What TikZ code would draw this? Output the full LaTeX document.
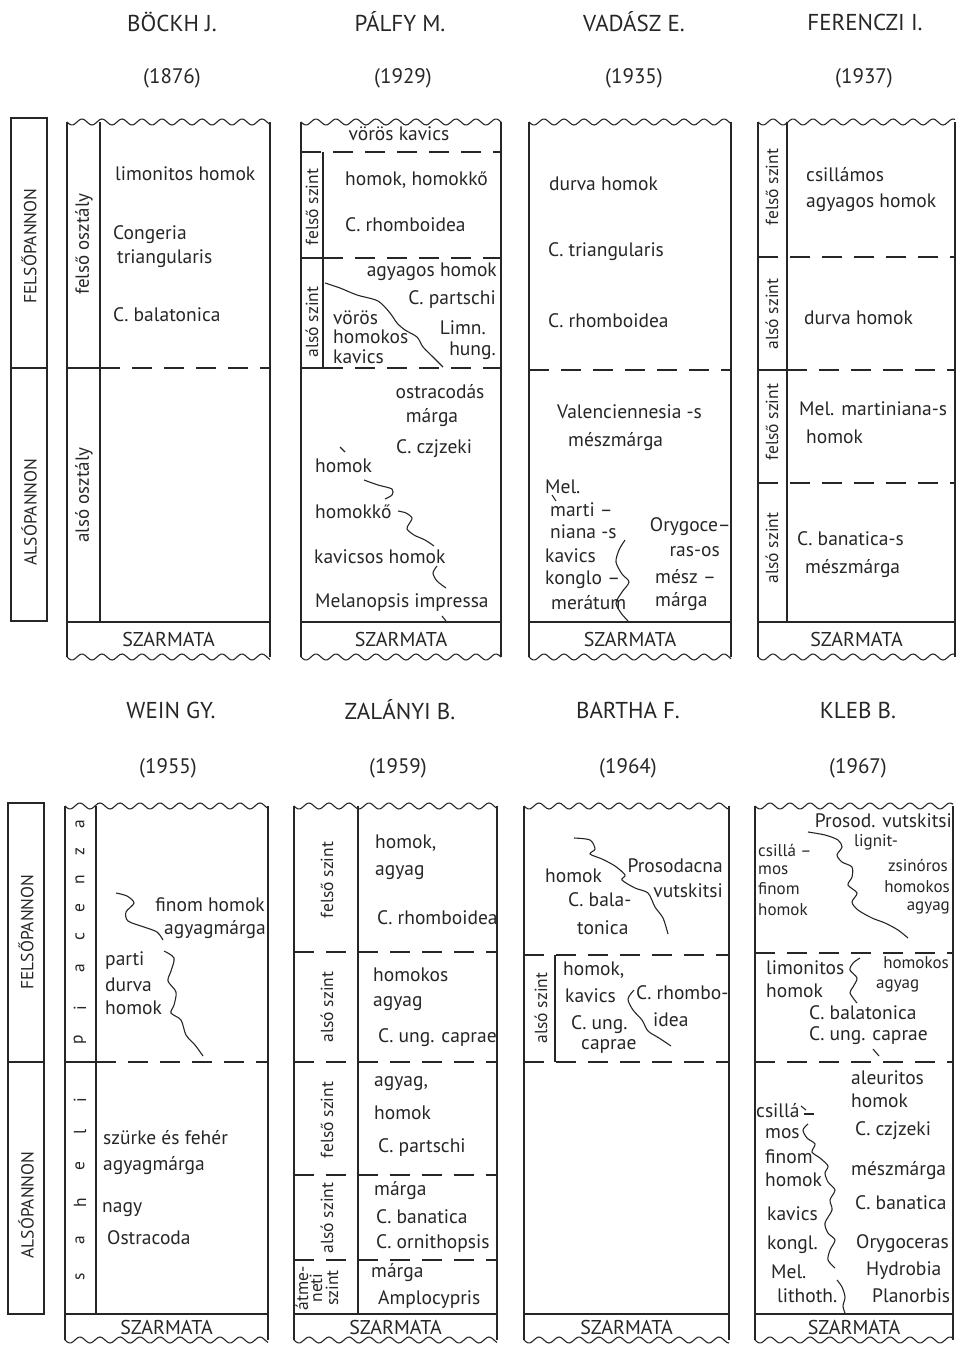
\documentclass[tikz,border=0pt]{standalone}
\usepackage{fontspec}
\setmainfont{PT Sans}
\newcommand\wavyline[3]{\draw[wav] plot[domain=#1:#2,samples=100,smooth] (\x,{#3+3*sin(18*(\x-#1))});}
\newcommand\colframe[6]{%
  \wavyline{#1}{#2}{#3}
  \wavyline{#1}{#2}{#5}
  \draw[ln] (#1,#3) -- (#1,#5) (#2,#3) -- (#2,#5);
  \draw[ln] (#1,#4) -- (#2,#4);
  \node[t, font=\fontsize{20}{22}\selectfont] (#6) at ({(#1+#2)/2},{(#4+#5)/2}) {SZARMATA};
}
\begin{document}
\begin{tikzpicture}[x=1pt,y=-1pt,
  ln/.style={line width=1.1pt, black!85},
  dsh/.style={ln, dash pattern=on 20pt off 12pt},
  wav/.style={line width=1.1pt, black!85},
  t/.style={inner sep=0pt, font=\fontsize{19.5}{21}\selectfont, text=black!85},
  tw/.style={t, anchor=west},
  te/.style={t, anchor=east},
  sm/.style={font=\fontsize{17}{18}\selectfont},
  rt/.style={t, rotate=90, font=\fontsize{17.5}{19}\selectfont},
  rto/.style={t, rotate=90, font=\fontsize{19}{21}\selectfont},
  hd/.style={t, font=\fontsize{23}{25}\selectfont},
  yr/.style={t, font=\fontsize{21}{23}\selectfont},
  bigl/.style={t, rotate=90, font=\fontsize{17.5}{19}\selectfont},
]
\useasboundingbox (0,0) rectangle (961,1346);

% ---------- headings ----------
\node[hd] (h1) at (172,22) {BÖCKH J.};
\node[yr] (y1) at (172,78) {(1876)};
\node[hd] (h2) at (400,22) {PÁLFY M.};
\node[yr] (y2) at (403,78) {(1929)};
\node[hd] (h3) at (634,22) {VADÁSZ E.};
\node[yr] (y3) at (634,78) {(1935)};
\node[hd] (h4) at (865,22) {FERENCZI I.};
\node[yr] (y4) at (864,78) {(1937)};
\node[hd] (h5) at (171,710) {WEIN GY.};
\node[yr] (y5) at (168,768) {(1955)};
\node[hd] (h6) at (400,710) {ZALÁNYI B.};
\node[yr] (y6) at (398,768) {(1959)};
\node[hd] (h7) at (628,710) {BARTHA F.};
\node[yr] (y7) at (628,768) {(1964)};
\node[hd] (h8) at (858,710) {KLEB B.};
\node[yr] (y8) at (858,768) {(1967)};

% ---------- left label boxes ----------
\draw[ln] (11,118) rectangle (47,368);
\draw[ln] (11,368) rectangle (47,621);
\node[bigl] (lf1) at (29,246) {FELSŐPANNON};
\node[bigl] (la1) at (29,512) {ALSÓPANNON};
\draw[ln] (8,803) rectangle (44,1062);
\draw[ln] (8,1062) rectangle (44,1314);
\node[bigl] (lf2) at (26,932) {FELSŐPANNON};
\node[bigl] (la2) at (26,1205) {ALSÓPANNON};

% ---------- Böckh ----------
\colframe{67}{270}{122}{622}{657}{sz1}
\draw[ln] (100,122) -- (100,622);
\draw[ln] (67,368) -- (100,368);
\draw[dsh] (100,368) -- (270,368);
\node[rto] (b1) at (84,244) {felső osztály};
\node[rto] (b2) at (84,495) {alsó osztály};
\node[tw] (b3) at (115,174) {limonitos homok};
\node[tw] (b4) at (113,235) {Congeria};
\node[tw] (b5) at (117,259) {triangularis};
\node[tw] (b6) at (113,315) {C. balatonica};

% ---------- Pálfy ----------
\colframe{301}{501}{122}{622}{657}{sz2}
\draw[dsh] (301,152) -- (501,152);
\draw[ln] (323,152) -- (323,368);
\draw[ln] (301,258) -- (323,258);
\draw[dsh] (323,258) -- (501,258);
\draw[ln] (301,368) -- (323,368);
\draw[dsh] (323,368) -- (501,368);
\node[rt] (p0) at (312,207) {felső szint};
\node[rt] (p00) at (312,322) {alsó szint};
\node[t] (p1) at (399,134) {vörös kavics};
\node[tw] (p2) at (345,180) {homok, homokkő};
\node[tw] (p3) at (345,225) {C. rhomboidea};
\node[te] (p4) at (497,272) {agyagos homok};
\node[te] (p5) at (496,300) {C. partschi};
\node[tw] (p6) at (333,318) {vörös};
\node[tw] (p7) at (333,337) {homokos};
\node[tw] (p8) at (333,357) {kavics};
\node[te] (p9) at (486,328) {Limn.};
\node[te] (p10) at (496,351) {hung.};
\draw[wav] plot[smooth] coordinates {(325,283) (340,288) (357,295) (378,301) (390,313) (397,323) (405,330) (417,337) (423,347) (433,357) (443,367)};
\node[t] (p11) at (440,392) {ostracodás};
\node[t] (p12) at (432,418) {márga};
\node[tw] (p13) at (396,449) {C. czjzeki};
\node[tw] (p14) at (315,466) {homok};
\node[tw] (p15) at (315,512) {homokkő};
\node[tw] (p16) at (314,557) {kavicsos homok};
\node[tw] (p17) at (315,603) {Melanopsis impressa};
\draw[wav] (340,447) -- (345,452);
\draw[wav] plot[smooth] coordinates {(364,480) (378,485) (392,489) (392,495) (385,499)};
\draw[wav] plot[smooth] coordinates {(398,511) (406,513) (412,518) (409,524) (407,529) (414,535) (425,540) (434,546)};
\draw[wav] plot[smooth] coordinates {(437,566) (433,573) (437,581) (446,588)};
\draw[wav] (442,616) -- (446,621);

% ---------- Vadász ----------
\colframe{529}{731}{122}{622}{657}{sz3}
\draw[dsh] (529,370) -- (731,370);
\node[tw] (v1) at (549,184) {durva homok};
\node[tw] (v2) at (548,252) {C. triangularis};
\node[tw] (v3) at (548,321) {C. rhomboidea};
\node[tw] (v4) at (557,412) {Valenciennesia -s};
\node[tw] (v5) at (568,442) {mészmárga};
\node[tw] (v6) at (545,487) {Mel.};
\node[tw] (v7) at (550,510) {marti –};
\node[tw] (v8) at (550,532) {niana -s};
\node[tw] (v9) at (545,556) {kavics};
\node[tw] (v10) at (545,580) {konglo –};
\node[tw] (v11) at (551,603) {merátum};
\node[te] (v12) at (731,527) {Orygoce–};
\node[te] (v13) at (720,552) {ras-os};
\node[tw] (v14) at (655,577) {mész –};
\node[tw] (v15) at (655,602) {márga};
\draw[wav] (552,495) -- (556,501);
\draw[wav] plot[smooth] coordinates {(625,540) (619,550) (616,562) (622,574) (629,582) (622,592) (616,603) (621,613) (628,621)};

% ---------- Ferenczi ----------
\colframe{758}{955}{122}{622}{657}{sz4}
\draw[ln] (787,122) -- (787,622);
\draw[dsh] (758,257) -- (955,257);
\draw[ln] (758,370) -- (787,370);
\draw[dsh] (787,370) -- (955,370);
\draw[dsh] (758,483) -- (955,483);
\node[rt] (f1) at (772,187) {felső szint};
\node[rt] (f2) at (772,314) {alsó szint};
\node[rt] (f3) at (772,422) {felső szint};
\node[rt] (f4) at (772,548) {alsó szint};
\node[tw] (f5) at (806,175) {csillámos};
\node[tw] (f6) at (806,203) {agyagos homok};
\node[tw] (f7) at (804,318) {durva homok};
\node[tw] (f8) at (799,409) {Mel. martiniana-s};
\node[tw] (f9) at (806,437) {homok};
\node[tw] (f10) at (797,539) {C. banatica-s};
\node[tw] (f11) at (805,569) {mészmárga};

% ---------- Wein ----------
\colframe{65}{268}{806}{1314}{1340}{sz5}
\draw[ln] (96,806) -- (96,1314);
\draw[ln] (65,1062) -- (96,1062);
\draw[dsh] (96,1062) -- (268,1062);
\foreach \ch/\yy [count=\k] in {p/1040,i/1008,a/968,c/937,e/908,n/880,z/852,a/824,s/1277,a/1240,h/1203,e/1166,l/1132,i/1100}
  \node[rt] (wl\k) at (80,\yy) {\ch};
\node[te] (w1) at (265,905) {finom homok};
\node[te] (w2) at (266,930) {agyagmárga};
\node[tw] (w3) at (105,961) {parti};
\node[tw] (w4) at (105,985) {durva};
\node[tw] (w5) at (105,1008) {homok};
\node[tw] (w6) at (103,1138) {szürke és fehér};
\node[tw] (w7) at (103,1166) {agyagmárga};
\node[tw] (w8) at (102,1210) {nagy};
\node[tw] (w9) at (107,1238) {Ostracoda};
\draw[wav] plot[smooth] coordinates {(116,893) (127,896) (134,903) (126,912) (128,921) (144,927) (157,932) (163,940)};
\draw[wav] plot[smooth] coordinates {(164,951) (174,958) (171,971) (168,981) (176,992) (174,1005) (171,1013) (181,1020) (186,1035) (195,1045) (203,1056)};

% ---------- Zalányi ----------
\colframe{294}{497}{806}{1314}{1340}{sz6}
\draw[ln] (358,806) -- (358,1314);
\draw[dsh] (294,952) -- (497,952);
\draw[dsh] (294,1062) -- (497,1062);
\draw[dsh] (294,1175) -- (497,1175);
\draw[dsh] (294,1260) -- (497,1260);
\node[rt] (z1) at (327,880) {felső szint};
\node[rt] (z2) at (327,1007) {alsó szint};
\node[rt] (z3) at (327,1120) {felső szint};
\node[rt] (z4) at (327,1218) {alsó szint};
\node[rt] (z5) at (302,1288) {átme-};
\node[rt] (z6) at (316,1288) {neti};
\node[rt] (z7) at (332,1288) {szint};
\node[tw] (z8) at (375,843) {homok,};
\node[tw] (z9) at (375,873) {agyag};
\node[tw] (z10) at (377,918) {C. rhomboidea};
\node[tw] (z11) at (373,975) {homokos};
\node[tw] (z12) at (373,1004) {agyag};
\node[tw] (z13) at (378,1038) {C. ung. caprae};
\node[tw] (z14) at (374,1084) {agyag,};
\node[tw] (z15) at (374,1113) {homok};
\node[tw] (z16) at (378,1147) {C. partschi};
\node[tw] (z17) at (374,1191) {márga};
\node[tw] (z18) at (376,1217) {C. banatica};
\node[tw] (z19) at (376,1243) {C. ornithopsis};
\node[tw] (z20) at (371,1273) {márga};
\node[tw] (z21) at (378,1300) {Amplocypris};

% ---------- Bartha ----------
\colframe{524}{729}{806}{1314}{1340}{sz7}
\draw[dsh] (524,955) -- (729,955);
\draw[dsh] (524,1062) -- (729,1062);
\draw[ln] (555,955) -- (555,1062);
\node[rt] (r1) at (541,1008) {alsó szint};
\node[tw] (r2) at (545,876) {homok};
\node[tw] (r3) at (568,900) {C. bala-};
\node[tw] (r4) at (577,928) {tonica};
\node[te] (r5) at (723,866) {Prosodacna};
\node[te] (r6) at (723,891) {vutskitsi};
\node[tw] (r7) at (563,970) {homok,};
\node[tw] (r8) at (565,996) {kavics};
\node[tw] (r9) at (571,1025) {C. ung.};
\node[tw] (r10) at (581,1046) {caprae};
\node[tw] (r11) at (636,993) {C. rhombo-};
\node[tw] (r12) at (653,1020) {idea};
\draw[wav] plot[smooth] coordinates {(574,838) (590,840) (595,849) (590,854) (602,859) (615,866) (625,875) (622,880) (635,888) (648,893) (655,907) (663,918) (668,934)};
\draw[wav] plot[smooth] coordinates {(634,990) (628,999) (633,1010) (642,1020) (648,1031) (659,1038) (671,1046)};

% ---------- Kleb ----------
\colframe{755}{953}{806}{1314}{1340}{sz8}
\draw[dsh] (755,953) -- (953,953);
\draw[dsh] (755,1062) -- (953,1062);
\node[te] (k1) at (952,821) {Prosod. vutskitsi};
\node[tw,sm] (k2) at (854,842) {lignit-};
\node[te,sm] (k3) at (948,865) {zsinóros};
\node[te,sm] (k4) at (950,887) {homokos};
\node[te,sm] (k5) at (950,908) {agyag};
\node[tw,sm] (k6) at (758,850) {csillá –};
\node[tw,sm] (k7) at (758,870) {mos};
\node[tw,sm] (k8) at (758,889) {finom};
\node[tw,sm] (k9) at (758,910) {homok};
\draw[wav] plot[smooth] coordinates {(808,832) (825,835) (838,840) (842,847) (837,855) (842,862) (852,867) (852,877) (848,885) (857,893) (852,902) (858,910) (872,918) (885,923) (898,930) (908,938)};
\node[tw] (k10) at (766,968) {limonitos};
\node[tw] (k11) at (766,991) {homok};
\node[te,sm] (k12) at (949,963) {homokos};
\node[tw,sm] (k13) at (876,986) {agyag};
\node[tw] (k14) at (809,1013) {C. balatonica};
\node[tw] (k15) at (809,1036) {C. ung. caprae};
\draw[wav] plot[smooth] coordinates {(860,958) (853,963) (850,970) (857,978) (853,987) (850,993) (857,1003)};
\draw[wav] (873,1049) -- (879,1056);
\node[tw] (k16) at (851,1078) {aleuritos};
\node[tw] (k17) at (851,1101) {homok};
\node[tw] (k18) at (855,1131) {C. czjzeki};
\node[tw] (k19) at (851,1171) {mészmárga};
\node[tw] (k20) at (855,1203) {C. banatica};
\node[tw] (k21) at (856,1244) {Orygoceras};
\node[tw] (k22) at (866,1271) {Hydrobia};
\node[tw] (k23) at (872,1296) {Planorbis};
\node[tw] (k24) at (756,1111) {csillá};
\node[tw] (k25) at (765,1134) {mos};
\node[tw] (k26) at (765,1157) {finom};
\node[tw] (k27) at (765,1180) {homok};
\node[tw] (k28) at (767,1214) {kavics};
\node[tw] (k29) at (767,1245) {kongl.};
\node[tw] (k30) at (771,1272) {Mel.};
\node[tw] (k31) at (777,1296) {lithoth.};
\draw[wav] (801,1106) -- (806,1110);
\draw[wav] (804,1114) -- (814,1114);
\draw[wav] plot[smooth] coordinates {(808,1124) (803,1130) (807,1138) (815,1144) (812,1152) (820,1158) (828,1166) (825,1173) (828,1182) (835,1190) (830,1200) (832,1210) (825,1223) (828,1233) (835,1240) (830,1250) (828,1260) (835,1268)};
\draw[wav] plot[smooth] coordinates {(837,1280) (842,1287) (845,1297) (843,1306) (845,1313)};
\end{tikzpicture}
\end{document}
